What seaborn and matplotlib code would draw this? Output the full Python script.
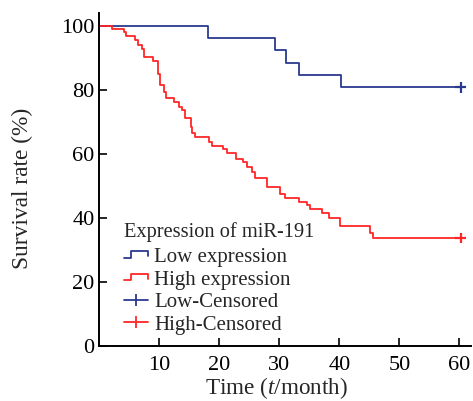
import numpy as np
import pandas as pd
import matplotlib
matplotlib.use("Agg")
import matplotlib.pyplot as plt
import seaborn as sns
from matplotlib.lines import Line2D
from matplotlib.legend_handler import HandlerBase

# ---- data ----
low_time = [0, 18.1, 29.2, 31.1, 33.2, 40.2, 60.2]
low_surv = [100, 96.15, 92.31, 88.46, 84.62, 80.77, 80.77]

high_time = [0, 2.1, 4.1, 4.5, 6.0, 6.5, 7.1, 7.4, 9.0, 9.8, 10.1, 10.7, 11.1,
             12.5, 13.2, 13.7, 14.3, 15.3, 15.5, 16.0, 18.2, 18.8, 20.6, 21.2,
             22.8, 24.0, 24.6, 25.4, 26.0, 27.9, 30.1, 31.0, 33.2, 34.6, 35.1,
             37.1, 38.2, 40.1, 45.1, 45.6, 60.2]
high_surv = [100, 99.0, 98.0, 96.9, 95.5, 94.0, 92.9, 90.3, 89.0, 85.1, 81.5,
             79.4, 77.5, 76.3, 74.8, 73.6, 71.2, 68.5, 66.5, 65.4, 63.8, 62.5,
             61.5, 60.2, 58.5, 57.4, 56.0, 54.5, 52.4, 49.8, 47.4, 46.2, 44.9,
             44.0, 42.7, 41.6, 39.9, 37.5, 35.3, 33.8, 33.8]

censor_time = [60.2, 60.2]
censor_surv = [80.77, 33.8]

groups = ["Low expression", "High expression"]
censor_labels = ["Low-Censored", "High-Censored"]
legend_title = "Expression of miR-191"
x_ticks = [10, 20, 30, 40, 50, 60]
y_ticks = [0, 20, 40, 60, 80, 100]
colors = ["#2a3990", "#ff2626"]

# ---- style ----
sns.set_style("ticks")
plt.rcParams["font.family"] = ["Liberation Serif", "DejaVu Serif"]
plt.rcParams["mathtext.fontset"] = "custom"
plt.rcParams["mathtext.rm"] = "Liberation Serif"
plt.rcParams["mathtext.it"] = "Liberation Serif:italic"

df = pd.concat([
    pd.DataFrame({"time": low_time, "surv": low_surv, "group": groups[0]}),
    pd.DataFrame({"time": high_time, "surv": high_surv, "group": groups[1]}),
], ignore_index=True)
cdf = pd.DataFrame({"time": censor_time, "surv": censor_surv, "group": censor_labels})

fig = plt.figure(figsize=(4.73, 4.01), dpi=100)
ax = fig.add_axes([0.21, 0.137, 0.7865, 0.8306])

sns.lineplot(data=df, x="time", y="surv", hue="group", hue_order=groups,
             palette=colors, drawstyle="steps-post", estimator=None, sort=False,
             linewidth=1.3, legend=False, ax=ax)
sns.scatterplot(data=cdf, x="time", y="surv", hue="group", hue_order=censor_labels,
                palette=colors, marker="+", s=55, linewidth=1.6, legend=False,
                ax=ax, zorder=5)

ax.set_xlim(0, 62)
ax.set_ylim(0, 104)
ax.set_xticks(x_ticks)
ax.set_yticks(y_ticks)
ax.tick_params(direction="in", length=5.5, width=1.2, labelsize=16,
               colors="black")
ax.tick_params(axis="x", pad=7)
ax.tick_params(axis="y", pad=3.5)
for s in ["top", "right"]:
    ax.spines[s].set_visible(False)
for s in ["left", "bottom"]:
    ax.spines[s].set_linewidth(1.4)
    ax.spines[s].set_color("black")

ax.set_xlabel("Time ($t$/month)", fontsize=16.7)
ax.set_ylabel("Survival rate (%)", fontsize=16.8)
ax.xaxis.set_label_coords(0.477, -0.086)
ax.yaxis.set_label_coords(-0.179, 0.474)


class StepHandler(HandlerBase):
    def create_artists(self, legend, orig_handle, xdescent, ydescent, width,
                       height, fontsize, trans):
        x0, y0 = -xdescent, -ydescent
        xs = [x0, x0 + 0.3 * width, x0 + 0.3 * width, x0 + width, x0 + width]
        ys = [y0 + 0.3 * height, y0 + 0.3 * height, y0 + 0.75 * height,
              y0 + 0.75 * height, y0 + 0.4 * height]
        ln = Line2D(xs, ys, color=orig_handle.get_color(),
                    linewidth=orig_handle.get_linewidth(), transform=trans)
        return [ln]


h_low = Line2D([], [], color=colors[0], linewidth=1.3)
h_high = Line2D([], [], color=colors[1], linewidth=1.3)
h_lc = Line2D([], [], color=colors[0], linewidth=1.3, marker="|",
              markersize=8, markeredgewidth=1.3)
h_hc = Line2D([], [], color=colors[1], linewidth=1.3, marker="|",
              markersize=8, markeredgewidth=1.3)

leg = ax.legend([h_low, h_high, h_lc, h_hc],
                [groups[0], groups[1], censor_labels[0], censor_labels[1]],
                handler_map={h_low: StepHandler(), h_high: StepHandler()},
                title=legend_title, title_fontsize=14.7, fontsize=15,
                loc="upper left", bbox_to_anchor=(0.066, 0.373),
                frameon=False, borderpad=0, borderaxespad=0,
                handlelength=1.15, handletextpad=0.3, labelspacing=0.14,
                alignment="left")
leg._legend_box.sep = 4.3

fig.savefig("out.png", dpi=100)
